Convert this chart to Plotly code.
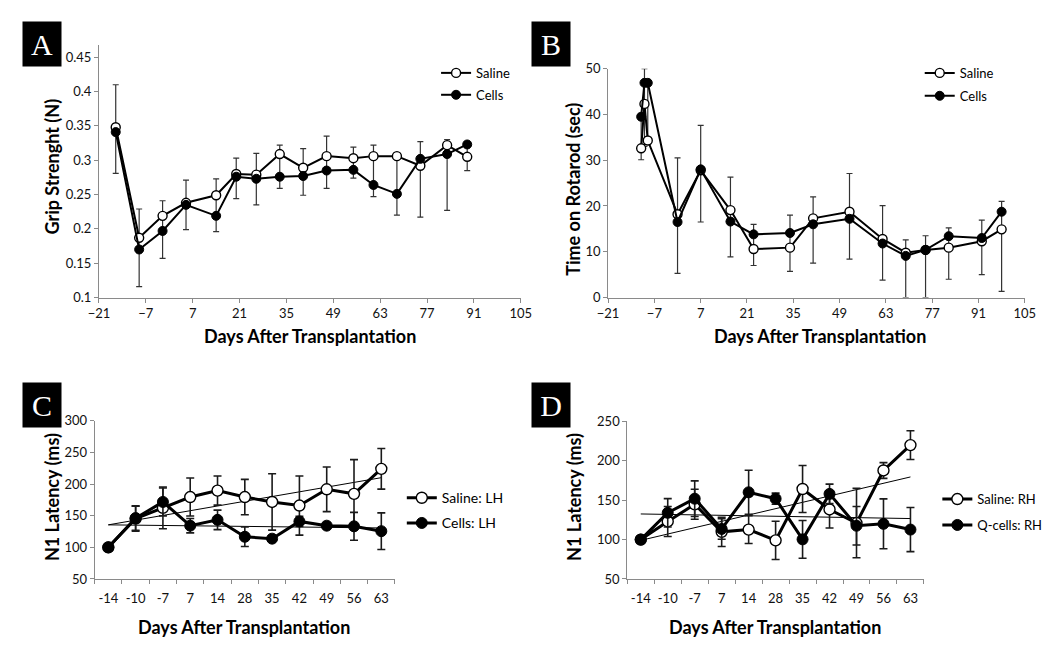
import plotly.graph_objects as go

# ---------------- Panel A: grip strength ----------------
a_days = [-16, -9, -2, 5, 14, 20, 26, 33, 40, 47, 55, 61, 68, 75, 83, 89]
a_saline = [0.348, 0.187, 0.219, 0.238, 0.249, 0.280, 0.279, 0.309, 0.289, 0.306, 0.303, 0.306, 0.306, 0.292, 0.322, 0.305]
a_cells = [0.341, 0.170, 0.197, 0.235, 0.219, 0.276, 0.273, 0.276, 0.277, 0.285, 0.286, 0.264, 0.251, 0.302, 0.309, 0.323]
a_bar_top = [0.410, 0.229, 0.241, 0.271, 0.273, 0.303, 0.310, 0.322, 0.317, 0.335, 0.319, 0.322, 0.311, 0.327, 0.330, 0.325]
a_bar_bottom = [0.281, 0.116, 0.157, 0.199, 0.196, 0.244, 0.235, 0.259, 0.249, 0.259, 0.274, 0.247, 0.220, 0.217, 0.227, 0.285]
a_xticks = [-21, -7, 7, 21, 35, 49, 63, 77, 91, 105]
a_yticks = [0.1, 0.15, 0.2, 0.25, 0.3, 0.35, 0.4, 0.45]
a_yticktext = ["0.1", "0.15", "0.2", "0.25", "0.3", "0.35", "0.4", "0.45"]

# ---------------- Panel B: rotarod ----------------
b_days = [-11, -10, -9, 0, 7, 16, 23, 34, 41, 52, 62, 69, 75, 82, 92, 98]
b_saline = [32.6, 42.3, 34.3, 18.2, 27.8, 19.1, 10.6, 10.9, 17.3, 18.75, 12.8, 9.8, 10.4, 10.9, 12.3, 14.9]
b_cells = [39.5, 46.9, 46.9, 16.5, 28.0, 16.6, 13.8, 14.1, 16.0, 17.2, 11.8, 9.1, 10.4, 13.4, 13.0, 18.75]
b_bar_top = [40.0, 50.0, 47.0, 30.5, 37.6, 26.3, 16.0, 18.0, 22.0, 27.1, 20.1, 12.6, 13.5, 15.2, 16.9, 21.0]
b_bar_bottom = [30.1, 33.0, 34.3, 5.3, 16.5, 8.9, 7.0, 5.7, 7.5, 8.4, 3.8, 0.0, 0.0, 4.0, 5.0, 1.35]
b_xticks = [-21, -7, 7, 21, 35, 49, 63, 77, 91, 105]
b_yticks = [0, 10, 20, 30, 40, 50]

# ---------------- Panels C & D: N1 latency ----------------
cd_days = ["-14", "-10", "-7", "7", "14", "28", "35", "42", "49", "56", "63"]

c_saline = [100, 145.5, 162.4, 179.4, 189.6, 179.4, 171.7, 166, 191.7, 184.5, 224]
c_saline_err = [0, 20, 33, 30, 23, 28, 44.6, 46.7, 35.3, 54, 32]
c_cells = [100, 146, 171.7, 134.2, 143.4, 116.7, 113.7, 140.9, 134.2, 133.2, 125.5]
c_cells_err = [0, 19, 22, 11.3, 15.4, 15.4, 5, 8, 5, 22, 29]
c_saline_trend = [135.5, 210.0]
c_cells_trend = [135.5, 130.6]
c_yticks = [50, 100, 150, 200, 250, 300]

d_saline = [100, 123, 144.8, 109.8, 112.7, 99, 164.2, 138.2, 121, 187.7, 219.9]
d_saline_err = [0, 19, 19, 18.6, 17.7, 24.3, 29.8, 23.5, 44, 10, 18.2]
d_cells = [100, 134, 151.9, 113.5, 160, 151.9, 100.3, 158, 117.6, 120, 112.7]
d_cells_err = [0, 18, 22.6, 13, 28, 7, 24, 12.4, 24.4, 31.6, 28]
d_saline_trend = [99.0, 179.5]
d_cells_trend = [132.5, 126.7]
d_yticks = [50, 100, 150, 200, 250]

FONT = "Lato"
AXC = "#8a8a8a"
W, H = 1050, 645


def px_x(p):
    return p / W


def px_y(p):
    return 1 - p / H


fig = go.Figure()


def add_pair(x, s, c, xa, ya, legend, names, lw, msize, err_s=None, err_c=None, sym=True):
    s_err = None
    c_err = None
    if err_s is not None:
        if sym:
            s_err = dict(type="data", array=err_s, visible=True, color="#1a1a1a", thickness=1.6, width=4)
        else:
            s_err = err_s
    if err_c is not None:
        c_err = dict(type="data", array=err_c, visible=True, color="#1a1a1a", thickness=1.6, width=4)
    fig.add_trace(go.Scatter(
        x=x, y=s, mode="lines+markers", name=names[0], xaxis=xa, yaxis=ya,
        line=dict(color="black", width=lw),
        marker=dict(symbol="circle", size=msize, color="white", line=dict(color="black", width=1.4)),
        error_y=s_err, legend=legend, legendgroup=legend + "s"))
    fig.add_trace(go.Scatter(
        x=x, y=c, mode="lines+markers", name=names[1], xaxis=xa, yaxis=ya,
        line=dict(color="black", width=lw),
        marker=dict(symbol="circle", size=msize, color="black", line=dict(color="black", width=1)),
        error_y=c_err, legend=legend, legendgroup=legend + "c"))


# Panel A
a_plus = [t - v for t, v in zip(a_bar_top, a_saline)]
a_minus = [v - b for b, v in zip(a_bar_bottom, a_saline)]
add_pair(a_days, a_saline, a_cells, "x", "y", "legend", ["Saline", "Cells"], 2, 9,
         err_s=dict(type="data", symmetric=False, array=a_plus, arrayminus=a_minus,
                    color="#333333", thickness=1.2, width=3), sym=False)

# Panel B
b_plus = [t - v for t, v in zip(b_bar_top, b_saline)]
b_minus = [max(v - b, 0) for b, v in zip(b_bar_bottom, b_saline)]
add_pair(b_days, b_saline, b_cells, "x2", "y2", "legend2", ["Saline", "Cells"], 2, 9,
         err_s=dict(type="data", symmetric=False, array=b_plus, arrayminus=b_minus,
                    color="#333333", thickness=1.2, width=3), sym=False)

# Panel C
ends = [cd_days[0], cd_days[-1]]
fig.add_trace(go.Scatter(x=ends, y=c_saline_trend, mode="lines", xaxis="x3", yaxis="y3",
                         line=dict(color="black", width=1), showlegend=False))
fig.add_trace(go.Scatter(x=ends, y=c_cells_trend, mode="lines", xaxis="x3", yaxis="y3",
                         line=dict(color="black", width=1), showlegend=False))
add_pair(cd_days, c_saline, c_cells, "x3", "y3", "legend3", ["Saline: LH", "Cells: LH"], 3, 11,
         err_s=c_saline_err, err_c=c_cells_err)

# Panel D
fig.add_trace(go.Scatter(x=ends, y=d_saline_trend, mode="lines", xaxis="x4", yaxis="y4",
                         line=dict(color="black", width=1), showlegend=False))
fig.add_trace(go.Scatter(x=ends, y=d_cells_trend, mode="lines", xaxis="x4", yaxis="y4",
                         line=dict(color="black", width=1), showlegend=False))
add_pair(cd_days, d_saline, d_cells, "x4", "y4", "legend4", ["Saline: RH", "Q-cells: RH"], 3, 11,
         err_s=d_saline_err, err_c=d_cells_err)

axis_common = dict(showline=True, linecolor=AXC, linewidth=1, showgrid=False, zeroline=False,
                   ticks="outside", ticklen=4, tickcolor=AXC, tickwidth=1, tickangle=0,
                   tickfont=dict(family=FONT, size=13, color="#111111"))

fig.update_layout(
    width=W, height=H, margin=dict(l=0, r=0, t=0, b=0),
    paper_bgcolor="white", plot_bgcolor="white",
    font=dict(family=FONT, color="black"),
    xaxis=dict(domain=[px_x(81.7), px_x(512.5)], range=[-21, 105], tickvals=a_xticks,
               anchor="y", ticklabelstandoff=0, **axis_common),
    yaxis=dict(domain=[px_y(288.7), px_y(30)], range=[0.1, 0.4675], tickvals=a_yticks,
               ticktext=a_yticktext, anchor="x", ticklabelstandoff=0, **axis_common),
    xaxis2=dict(domain=[px_x(601.7), px_x(1027.3)], range=[-21, 105], tickvals=b_xticks,
                anchor="y2", ticklabelstandoff=0, **axis_common),
    yaxis2=dict(domain=[px_y(288.7), px_y(54)], range=[0, 50], tickvals=b_yticks,
                anchor="x2", ticklabelstandoff=0, **axis_common),
    xaxis3=dict(domain=[px_x(77.3), px_x(384)], type="category", range=[-0.5, 10.5],
                categoryorder="array", categoryarray=cd_days,
                tickson="boundaries", anchor="y3", ticklabelstandoff=7, **axis_common),
    yaxis3=dict(domain=[px_y(577.3), px_y(415)], range=[50, 300], tickvals=c_yticks,
                anchor="x3", ticklabelstandoff=0, **axis_common),
    xaxis4=dict(domain=[px_x(621.3), px_x(924.3)], type="category", range=[-0.5, 10.5],
                categoryorder="array", categoryarray=cd_days,
                tickson="boundaries", anchor="y4", ticklabelstandoff=7, **axis_common),
    yaxis4=dict(domain=[px_y(577.3), px_y(415.7)], range=[50, 250], tickvals=d_yticks,
                anchor="x4", ticklabelstandoff=0, **axis_common),
)

leg_common = dict(xanchor="left", yanchor="top", bgcolor="rgba(0,0,0,0)", itemwidth=30,
                  traceorder="grouped", borderwidth=0)
fig.update_layout(
    legend=dict(x=px_x(426), y=px_y(43), font=dict(family=FONT, size=13), tracegroupgap=2, **leg_common),
    legend2=dict(x=px_x(920), y=px_y(43), font=dict(family=FONT, size=13), tracegroupgap=3, **leg_common),
    legend3=dict(x=px_x(391), y=px_y(478), font=dict(family=FONT, size=14), tracegroupgap=4, **leg_common),
    legend4=dict(x=px_x(938), y=px_y(480), font=dict(family=FONT, size=13), tracegroupgap=6, **leg_common),
)

annotations = []
# Panel letters
for letter, cx, cy in [("A", 24, 29), ("B", 543, 29), ("C", 24, 399), ("D", 543, 399)]:
    annotations.append(dict(text=letter, x=px_x(cx), y=px_y(cy), xref="paper", yref="paper",
                            xanchor="center", yanchor="middle", showarrow=False, width=36, height=42,
                            bgcolor="black", font=dict(family="Liberation Serif", size=30, color="white")))
# Axis titles
title_font = dict(family=FONT, size=18, color="black", weight="bold")
for txt, cx, cy in [("Days After Transplantation", 297, 328), ("Days After Transplantation", 818, 328),
                    ("Days After Transplantation", 230, 627), ("Days After Transplantation", 772, 627)]:
    annotations.append(dict(text=txt, x=px_x(cx), y=px_y(cy), xref="paper", yref="paper",
                            xanchor="center", yanchor="middle", showarrow=False, font=title_font))
for txt, cx, cy in [("Grip Strenght (N)", 34, 154), ("Time on Rotarod (sec)", 565, 178),
                    ("N1 Latency (ms)", 33, 493), ("N1 Latency (ms)", 567, 493)]:
    annotations.append(dict(text=txt, x=px_x(cx), y=px_y(cy), xref="paper", yref="paper",
                            xanchor="center", yanchor="middle", showarrow=False, textangle=-90,
                            font=title_font))
fig.update_layout(annotations=annotations)

fig.write_html("out.html")
